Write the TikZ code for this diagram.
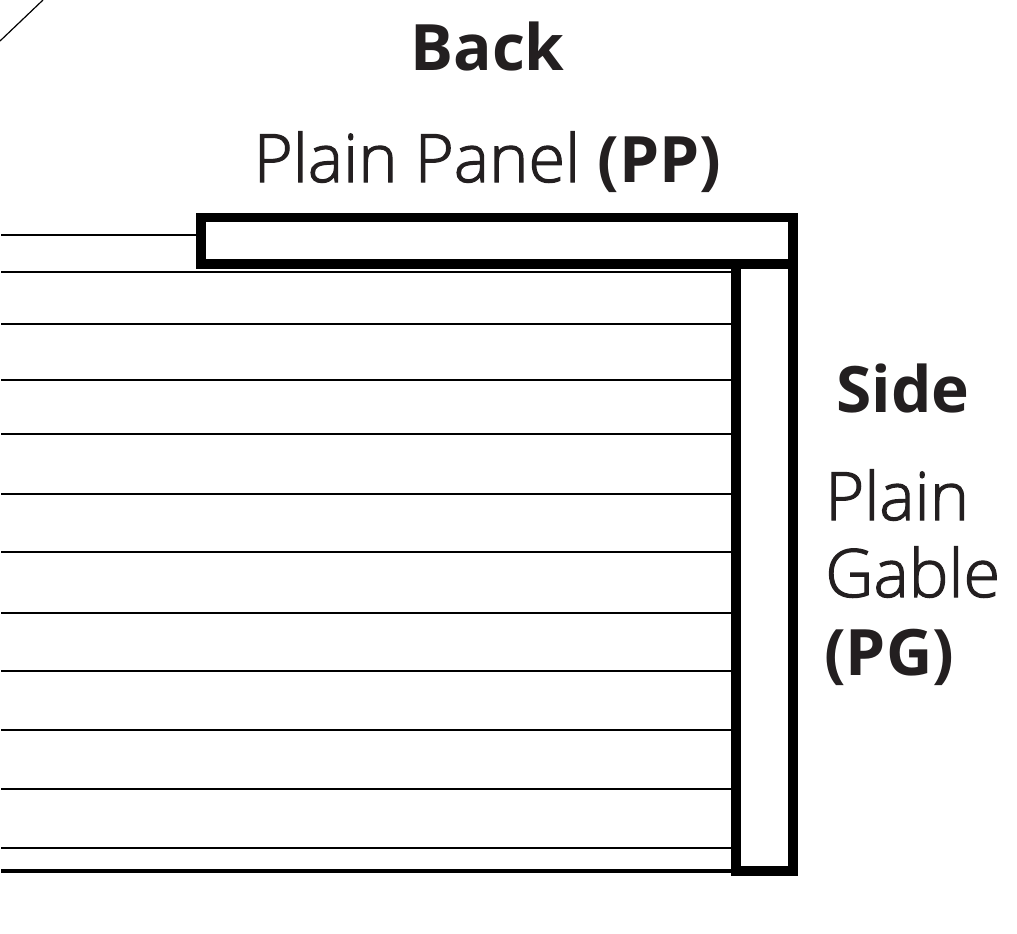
\documentclass[tikz,border=0pt]{standalone}
\usepackage{fontspec}
\setmainfont{Open Sans}
\newfontfamily\lightfont[FakeBold=1.8]{Open Sans Light}
\definecolor{inktext}{HTML}{231F20}
\newcommand{\boldpart}[1]{{\fontsize{48}{58.5}\selectfont\rmfamily\bfseries #1}}
\begin{document}
\begin{tikzpicture}[x=0.75pt,y=-0.75pt,
	panel/.style={line width=6.9pt, miter limit=10},
	board/.style={line width=0.9pt},
	heading/.style={font=\fontsize{48}{48}\selectfont\bfseries, text=inktext, inner sep=0pt},
	label/.style={font=\fontsize{50}{58.5}\selectfont\lightfont, text=inktext, inner sep=0pt}
	]
	\useasboundingbox (0,0) rectangle (1017,933);
	
	\draw[board] (0,41) -- (43,0);
	\draw[board] (1,235) -- (197,235);
	\foreach \y in {272,324,380,434,494,552,613,671,730,789,848} {
		\draw[board] (1,\y) -- (733,\y);
	}
	\draw[line width=2.4pt] (1,871) -- (733,871);
	
	\draw[panel] (201,217.5) rectangle (793,264);
	\draw[panel] (736,264) rectangle (793,871);
	
	\node[heading, anchor=base] (back) at (487.5,70) {Back};
	\node[label, anchor=base] (plainpanel) at (487.5,182) {Plain Panel \boldpart{(PP)}};
	\node[heading, anchor=base west] (side) at (836,412) {Side};
	\node[label, anchor=base west] (plain) at (825,520) {Plain};
	\node[label, anchor=base west] (gable) at (825,597) {Gable};
	\node[label, anchor=base west] (pg) at (824,675) {\boldpart{(PG)}};
\end{tikzpicture}
\end{document}
